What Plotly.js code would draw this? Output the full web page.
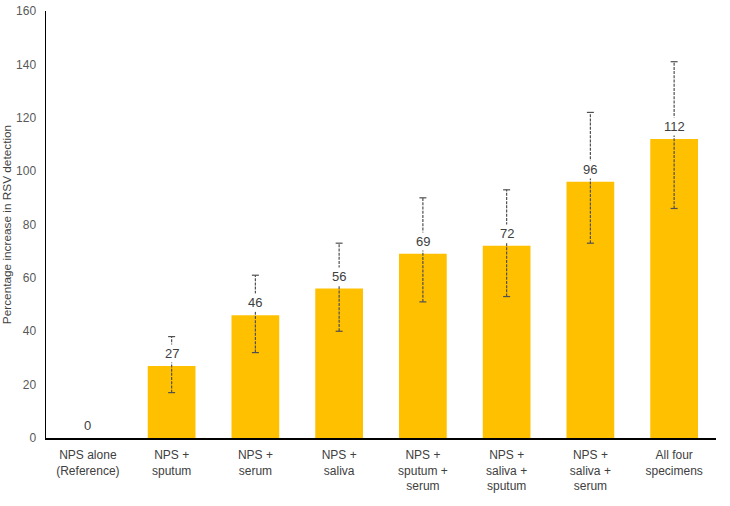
<!DOCTYPE html>
<html>
<head>
<meta charset="utf-8">
<script src="https://cdn.plot.ly/plotly-3.0.1.min.js"></script>
<style>
  html, body { margin: 0; padding: 0; background: #fff; }
  #chart { width: 730px; height: 506px; }
</style>
</head>
<body>
<div id="chart"></div>
<script>
const categories = [
  'NPS alone<br>(Reference)',
  'NPS +<br>sputum',
  'NPS +<br>serum',
  'NPS +<br>saliva',
  'NPS +<br>sputum +<br>serum',
  'NPS +<br>saliva +<br>sputum',
  'NPS +<br>saliva +<br>serum',
  'All four<br>specimens',
];
const increase = [0, 27, 46, 56, 69, 72, 96, 112];
const ciLow = [null, 17, 32, 40, 51, 53, 73, 86];
const ciHigh = [null, 38, 61, 73, 90, 93, 122, 141];

const barColor = '#FFC000';
const errColor = '#505050';
const textColor = '#404040';

const bars = {
  x: categories,
  y: increase,
  type: 'bar',
  marker: { color: barColor },
  hoverinfo: 'skip',
};

// dashed error bars drawn as line segments with caps
const errX = [];
const errY = [];
categories.forEach((cat, i) => {
  if (ciLow[i] === null) return;
  errX.push(cat, cat, null);
  errY.push(ciLow[i], ciHigh[i], null);
});
const errors = {
  x: errX,
  y: errY,
  type: 'scatter',
  mode: 'lines+markers',
  line: { color: errColor, width: 1.2, dash: '3px,1.2px' },
  marker: {
    symbol: 'line-ew',
    size: 5,
    color: errColor,
    line: { color: errColor, width: 1.2 },
  },
  hoverinfo: 'skip',
};

const labels = categories.map((cat, i) => ({
  x: cat,
  y: increase[i],
  text: String(increase[i]),
  showarrow: false,
  yanchor: 'bottom',
  yshift: 3,
  bgcolor: '#ffffff',
  borderpad: 1,
  font: { family: 'Liberation Sans, Arial, sans-serif', size: 13, color: textColor },
}));

const layout = {
  width: 730,
  height: 506,
  margin: { l: 46, r: 14, t: 11, b: 68 },
  paper_bgcolor: '#ffffff',
  plot_bgcolor: '#ffffff',
  showlegend: false,
  bargap: 0.43,
  xaxis: {
    type: 'category',
    showline: true,
    linecolor: '#000000',
    linewidth: 1.5,
    ticks: '',
    showgrid: false,
    ticklabelstandoff: 5,
    tickfont: { family: 'Liberation Sans, Arial, sans-serif', size: 12, color: textColor },
    fixedrange: true,
  },
  yaxis: {
    range: [0, 160],
    dtick: 20,
    showline: true,
    linecolor: '#000000',
    linewidth: 1.5,
    ticks: '',
    showgrid: false,
    zeroline: false,
    ticklabelstandoff: 6,
    tickfont: { family: 'Liberation Sans, Arial, sans-serif', size: 12, color: '#595959' },
    title: {
      text: 'Percentage increase in RSV detection',
      standoff: 6,
      font: { family: 'Liberation Sans, Arial, sans-serif', size: 11.8, color: textColor },
    },
    fixedrange: true,
  },
  annotations: labels,
};

Plotly.newPlot('chart', [bars, errors], layout, { displayModeBar: false, staticPlot: true });
</script>
</body>
</html>
